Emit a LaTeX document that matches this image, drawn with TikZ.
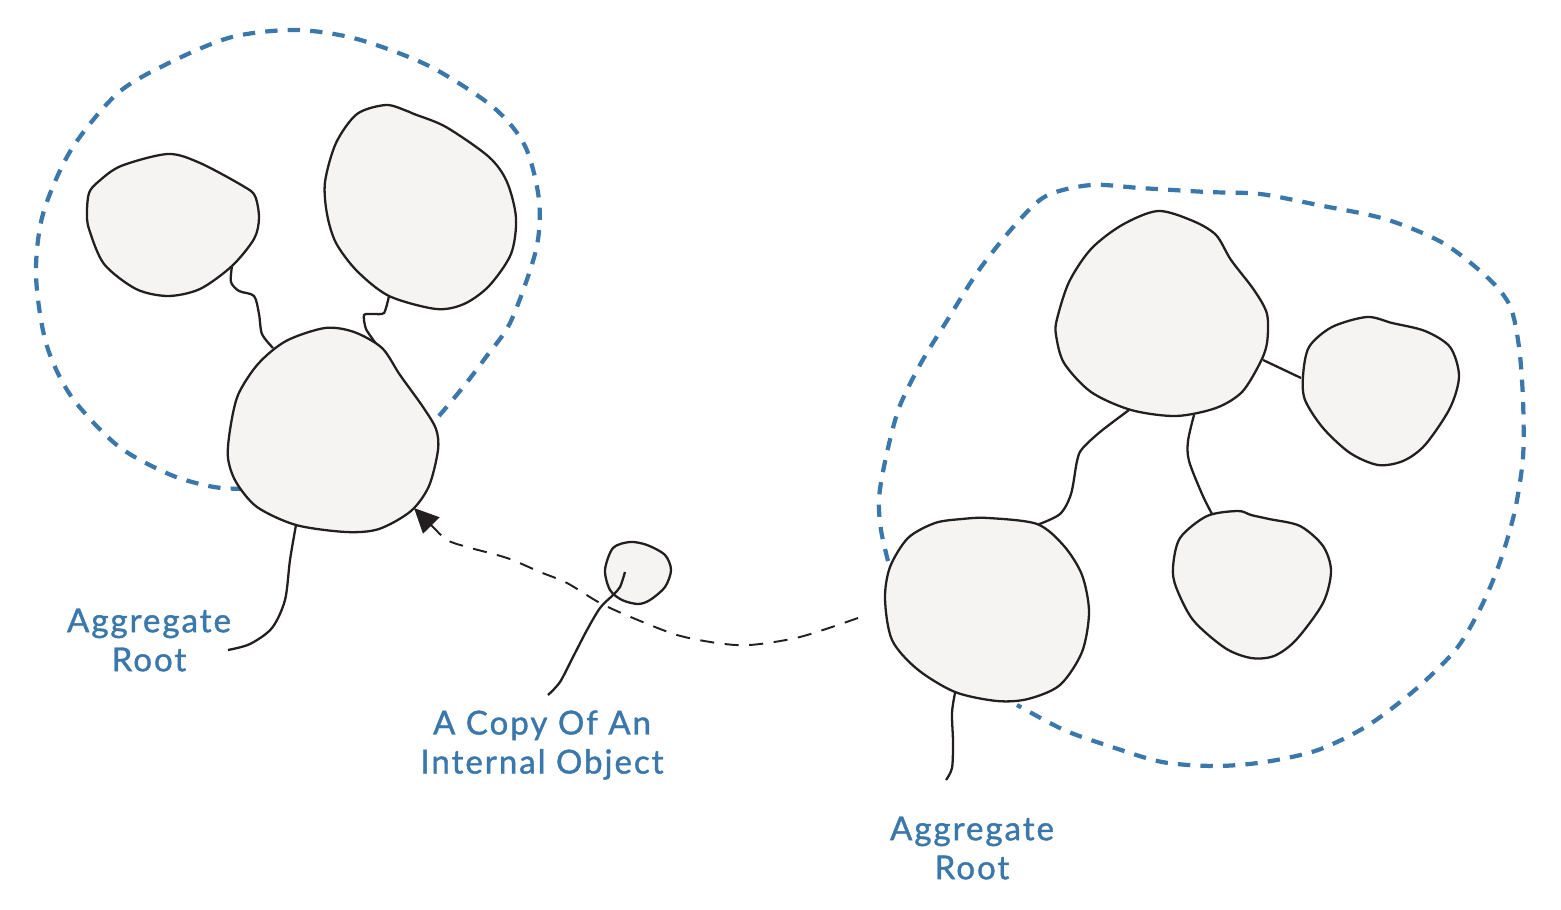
\documentclass[tikz,border=0pt]{standalone}
\usepackage{fontspec}
\setmainfont{Lato}
\newfontfamily\labelfont[LetterSpace=6,FakeBold=1.2]{Lato}
\usetikzlibrary{arrows.meta}
\definecolor{agblue}{HTML}{3A77AB}
\definecolor{blobfill}{HTML}{F5F4F2}
\definecolor{ink}{HTML}{231F20}
\tikzset{
 blob/.style={draw=ink, fill=blobfill, line width=0.65pt},
 link/.style={draw=ink, line width=0.65pt},
 boundary/.style={draw=agblue, line width=1.2pt, dash pattern=on 3.5pt off 2.9pt},
 lbl/.style={text=agblue, font=\labelfont\fontsize{9.4}{11.1}\selectfont, align=center},
 copyarrow/.style={draw=ink, line width=0.55pt, dash pattern=on 4pt off 3pt, -{Triangle[length=7pt,width=6.5pt]}}
}
\begin{document}
\begin{tikzpicture}[x=0.01cm,y=-0.01cm]
\useasboundingbox (0,0) rectangle (1561,910);

% ---------- named anchor points ----------
\coordinate (Abot) at (232,266);  \coordinate (CtopL) at (273,348);
\coordinate (Bbot) at (389,296);  \coordinate (CtopR) at (377,345);
\coordinate (Cbot) at (296,525);  \coordinate (LrootEnd) at (228,650);
\coordinate (Dleft) at (858,618); \coordinate (Cright) at (414,508);
\coordinate (copyIn) at (625,572); \coordinate (copyEnd) at (548,695);
\coordinate (EbotL) at (1129,410); \coordinate (DtopR) at (1037,525);
\coordinate (EbotR) at (1194,415); \coordinate (Gtop) at (1212,514);
\coordinate (Eright) at (1263,360); \coordinate (Fleft) at (1301,378);
\coordinate (Dbot) at (955,693);  \coordinate (RrootEnd) at (946,780);

% ---------- aggregate boundaries ----------
\draw[boundary] plot[smooth] coordinates {(439,416) (464,386) (486,357) (511,321) (536,250) (539,200) (525,146) (493,107) (429,66) (357,39) (296,30) (232,37) (171,62) (118,93) (71,150) (43,214) (36,275) (46,343) (71,396) (118,446) (171,475) (214,487) (246,489)};
\draw[boundary] plot[smooth] coordinates {(888,561) (881,530) (879,498) (886,457) (899,408) (921,363) (948,319) (979,270) (1015,225) (1046,196) (1091,185) (1140,188) (1207,192) (1260,194) (1318,205) (1385,219) (1443,243) (1488,278) (1510,306) (1519,347) (1523,400) (1523,457) (1515,510) (1501,559) (1483,603) (1457,648) (1416,689) (1367,726) (1318,750) (1265,762) (1216,766) (1162,762) (1109,746) (1064,730) (1017,705)};

% ---------- connectors ----------
\draw[link] plot[smooth] coordinates {(Abot) (231,282) (239,291) (254,296) (259,314) (262,334) (CtopL)};
\draw[link] plot[smooth, tension=0.4] coordinates {(Bbot) (384,313) (373,314) (364,315) (366,329) (CtopR)};
\draw[link] plot[smooth] coordinates {(Cbot) (290,560) (285,600) (272,628) (250,644) (LrootEnd)};
\draw[copyarrow] plot[smooth] coordinates {(Dleft) (800,637) (750,645) (717,643) (677,635) (633,618) (600,603) (567,583) (540,572) (507,558) (467,547) (447,540) (432,526) (Cright)};
\draw[link] plot[smooth] coordinates {(EbotL) (1100,432) (1082,449) (1077,461) (1071,494) (1060,514) (DtopR)};
\draw[link] plot[smooth] coordinates {(EbotR) (1188,441) (1189,461) (1202,494) (Gtop)};
\draw[link] (Eright) -- (Fleft);
\draw[link] plot[smooth] coordinates {(Dbot) (952,713) (953,742) (952,768) (RrootEnd)};

% ---------- blobs ----------
% left group
\draw[blob] plot[smooth cycle] coordinates {(89,193) (98,182) (121,166) (168,154) (200,163) (243,186) (255,196) (259,218) (254,239) (232,266) (200,289) (168,296) (136,289) (104,264) (89,229) (87,212)};
\draw[blob] plot[smooth cycle] coordinates {(325,182) (336,143) (357,114) (386,105) (407,111) (414,114) (446,127) (489,157) (507,182) (516,218) (511,254) (489,286) (464,304) (436,309) (389,296) (357,271) (336,243) (327,214)};
\draw[blob] plot[smooth cycle] coordinates {(230,430) (238,395) (258,364) (286,341) (325,328) (354,332) (382,348) (400,375) (423,407) (436,429) (438,450) (429,486) (411,511) (379,529) (346,532) (296,525) (257,507) (236,482) (228,458)};
% copy
\draw[blob] plot[smooth cycle] coordinates {(605,570) (613,548) (630,542) (647,545) (665,555) (671,570) (665,587) (650,600) (638,604) (622,600) (610,590)};
\draw[link] plot[smooth] coordinates {(copyIn) (620,587) (613,595) (600,608) (587,630) (573,657) (560,682) (copyEnd)};
% right group
\draw[blob] plot[smooth cycle] coordinates {(1057,319) (1069,282) (1091,249) (1122,225) (1158,211) (1193,221) (1216,235) (1231,260) (1254,290) (1267,314) (1267,343) (1260,363) (1242,392) (1216,408) (1176,416) (1131,410) (1091,392) (1064,363) (1056,335)};
\draw[blob] plot[smooth cycle] coordinates {(1303,376) (1309,347) (1332,327) (1367,317) (1392,323) (1425,331) (1450,347) (1459,376) (1450,408) (1425,445) (1403,461) (1378,465) (1350,453) (1323,428) (1305,400)};
\draw[blob] plot[smooth cycle] coordinates {(1173,567) (1180,538) (1207,516) (1238,511) (1251,515) (1269,519) (1300,526) (1323,546) (1331,571) (1323,603) (1296,640) (1274,656) (1251,658) (1225,648) (1193,620) (1176,587)};
\draw[blob] plot[smooth cycle] coordinates {(885,599) (890,567) (908,538) (935,523) (962,519) (988,518) (1037,524) (1064,546) (1082,575) (1089,612) (1082,652) (1060,685) (1028,699) (997,701) (955,692) (917,669) (892,640)};

% ---------- labels ----------
\node[lbl] (lroot) at (149,640) {Aggregate\\Root};
\node[lbl] (copylbl) at (542,745) {A Copy Of An\\Internal Object};
\node[lbl] (rroot) at (972,848) {Aggregate\\Root};
\end{tikzpicture}
\end{document}
